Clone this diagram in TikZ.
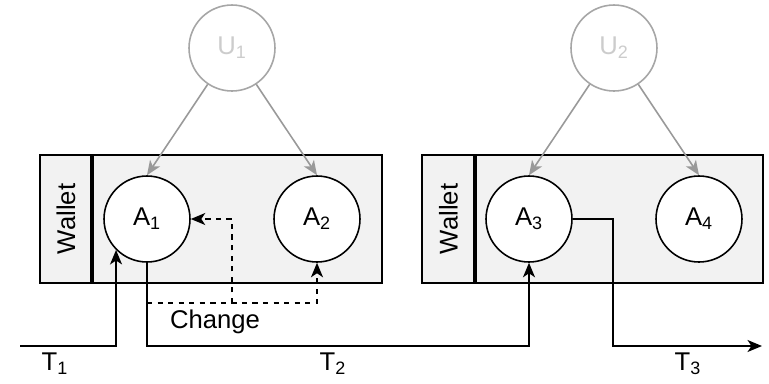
\documentclass[tikz,border=0pt]{standalone}
\usepackage{fontspec}
\setmainfont{Liberation Sans}
\usetikzlibrary{arrows.meta}

\begin{document}
\begin{tikzpicture}[x=0.02cm, y=-0.02cm, >={Stealth[length=2.9mm, width=2.4mm, inset=0.8mm]}, line width=0.9pt,
  letra/.style={font=\fontsize{14.6}{17}\selectfont},
  cuenta/.style={circle, draw, fill=white, minimum size=1.72cm, inner sep=0pt, letra},
  usuario/.style={cuenta, draw=black!35, text=black!20},
  gris/.style={draw=black!40}]
  \useasboundingbox (0,0) rectangle (769,383);
  % dos carteras
  \fill[black!5] (40,155) rectangle (382,283);
  \fill[black!5] (422,155) rectangle (763,283);
  \draw[line width=1.2pt] (40,155) rectangle (382,283);
  \draw[line width=1.2pt] (422,155) rectangle (763,283);
  \draw[line width=1.9pt] (92,155)--(92,283);
  \draw[line width=1.9pt] (475,155)--(475,283);
  \node[letra, rotate=90] (w1) at (66,219) {Wallet};
  \node[letra, rotate=90] (w2) at (448.5,219) {Wallet};
  % cuentas y usuarios
  \node[cuenta] (A1) at (147,219) {A\textsubscript{1}};
  \node[cuenta] (A2) at (317,219) {A\textsubscript{2}};
  \node[cuenta] (A3) at (529,219) {A\textsubscript{3}};
  \node[cuenta] (A4) at (699,219) {A\textsubscript{4}};
  \node[usuario] (U1) at (232,48) {U\textsubscript{1}};
  \node[usuario] (U2) at (614,48) {U\textsubscript{2}};
  \draw[gris,->] (U1)--(A1.north); \draw[gris,->] (U1)--(A2.north);
  \draw[gris,->] (U2)--(A3.north); \draw[gris,->] (U2)--(A4.north);
  % transacciones
  \coordinate (t1) at (20,346);
  \coordinate (q3) at (613,346);
  \coordinate (t3) at (762,346);
  \draw[->] (t1) -| (A1.south west);
  \draw[->] (A1.south)--(A1.south |- t1) -| (A3.south);
  \draw[->] (A3.east) -| (q3)--(t3);
  % cambio
  \coordinate (cambio) at (232,303);
  \draw[dashed,->] (A1.south |- cambio) -| (A2.south);
  \draw[dashed,->] (cambio) |- (A1.east);
  \node[letra] (lc) at (215,322) {Change};
  \node[letra] (T1) at (55,364) {T\textsubscript{1}};
  \node[letra] (T2) at (333,364) {T\textsubscript{2}};
  \node[letra] (T3) at (688,364) {T\textsubscript{3}};
\end{tikzpicture}
\end{document}
